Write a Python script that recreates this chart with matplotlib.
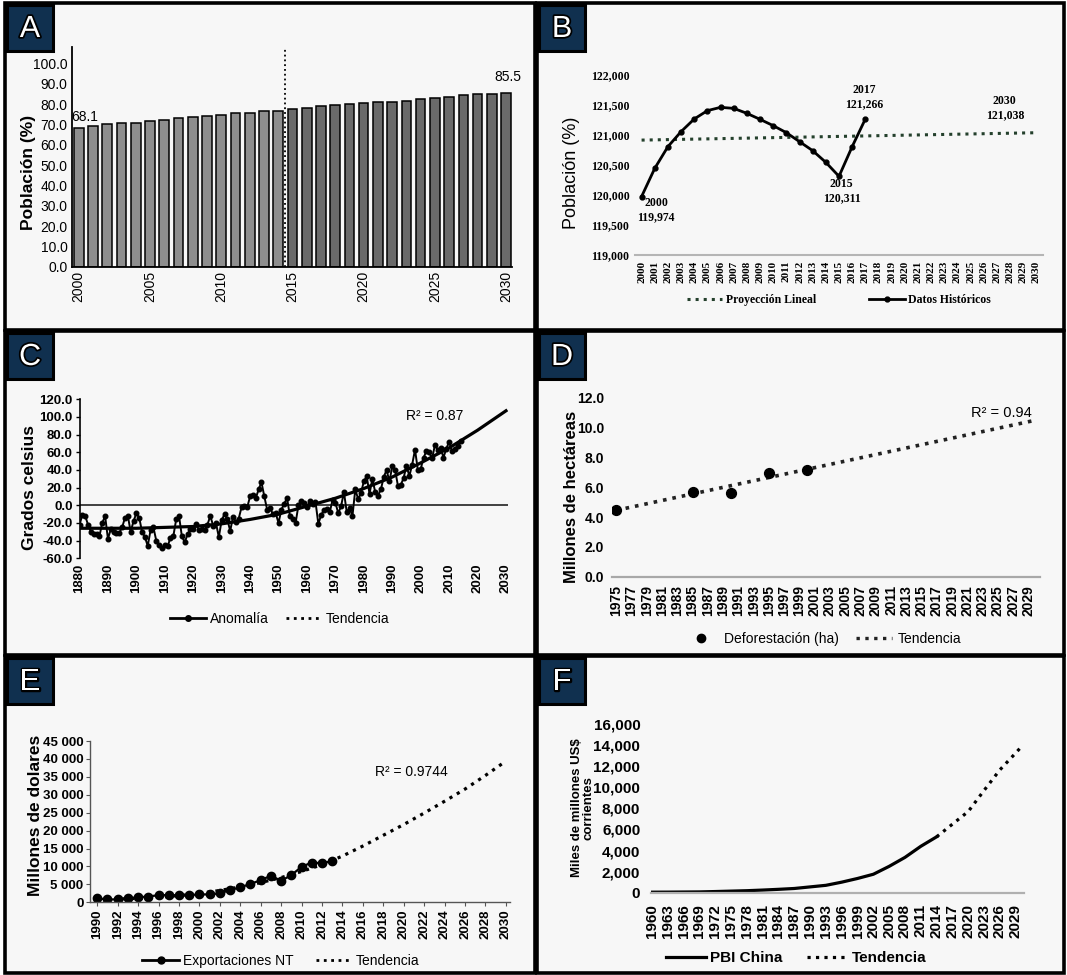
import matplotlib
matplotlib.use('Agg')
import matplotlib.pyplot as plt
from matplotlib.patches import Rectangle
from matplotlib.lines import Line2D
import matplotlib.patheffects as pe

W, H = 1067, 975
SANS = ['Liberation Sans', 'DejaVu Sans']
NARROW = ['Liberation Sans Narrow', 'Liberation Sans', 'DejaVu Sans']
SERIF = ['Liberation Serif', 'DejaVu Serif']

# ---- A: población urbana (%) ----
years_a = list(range(2000, 2031))
pob_a = [68.1, 69.0, 70.0, 70.5, 70.8, 71.8, 72.2, 73.0, 73.8, 74.3, 74.6,
         75.5, 75.5, 76.5, 76.5, 77.5, 78.3, 78.8, 79.5, 80.0, 80.4,
         81.2, 81.2, 81.7, 82.4, 82.9, 83.5, 84.3, 84.7, 85.1, 85.5]

# ---- B: población, datos históricos y proyección ----
years_b = list(range(2000, 2018))
pob_b = [119974, 120444, 120806, 121056, 121267, 121406, 121461, 121444,
         121361, 121261, 121156, 121039, 120889, 120739, 120544, 120311,
         120806, 121266]
proy_years = [2000, 2030]
proy_vals = [120915, 121038]
b_yticks = [119000, 119500, 120000, 120500, 121000, 121500, 122000]

# ---- C: anomalía de temperatura ----
years_c = list(range(1880, 2015))
anom_c = [-22, -11, -12, -22, -30, -32, -33, -35, -20, -12,
          -38, -27, -30, -31, -31, -25, -14, -12, -30, -18,
          -9, -14, -30, -36, -46, -28, -25, -40, -45, -48,
          -45, -46, -37, -35, -16, -12, -35, -42, -33, -27,
          -27, -21, -28, -27, -28, -22, -12, -23, -20, -36,
          -17, -10, -16, -29, -13, -19, -15, -2, -1, -2,
          10, 12, 8, 18, 26, 10, -5, -3, -10, -9,
          -20, -5, 2, 8, -12, -15, -20, 0, 5, 3,
          -2, 5, 2, 4, -21, -11, -5, -4, -8, 6,
          3, -9, -1, 15, -8, -3, -12, 18, 7, 14,
          27, 33, 13, 30, 15, 11, 18, 32, 40, 27,
          44, 40, 22, 23, 31, 45, 33, 46, 63, 40,
          41, 54, 61, 60, 53, 68, 63, 65, 54, 64,
          72, 61, 64, 67, 73]
trend_c_years = [1880, 1890, 1900, 1910, 1920, 1930, 1940, 1950, 1960,
                 1970, 1980, 1990, 2000, 2010, 2020, 2030]
trend_c = [-26, -26, -26, -25, -24, -21, -16, -10, -1, 8, 19, 32, 48, 65, 85, 107]

# ---- D: deforestación ----
years_d = [1975, 1985, 1990, 1995, 2000]
defor_d = [4.47, 5.65, 5.63, 6.97, 7.15]
trend_d_years = [1975, 2030]
trend_d = [4.45, 10.5]

# ---- E: exportaciones NT ----
years_e = list(range(1990, 2014))
export_e = [1100, 800, 800, 1100, 1400, 1600, 2000, 2000, 1900, 2000, 2200, 2200,
            2500, 3400, 4200, 5100, 6200, 7400, 6000, 7600, 9900, 11100, 10900, 11500]
trend_e_years = list(range(1990, 2031, 2))
trend_e = [900, 900, 1100, 1400, 1900, 2500, 3300, 4300, 5500, 6900, 8600,
           10500, 12900, 15700, 18700, 21700, 24900, 28200, 31600, 35400, 39400]

# ---- F: PBI China ----
years_f = list(range(1960, 2015, 3))
pbi_f = [50, 55, 65, 75, 110, 150, 190, 250, 320, 400, 550, 700, 1000,
         1350, 1750, 2500, 3350, 4400, 5300]
trend_f_years = [2014, 2017, 2020, 2023, 2026, 2029, 2030]
trend_f = [5300, 6500, 7700, 9700, 11650, 13250, 13800]

fig = plt.figure(figsize=(W / 100, H / 100), dpi=100, facecolor='white')


def fxy(x, y):
    return x / W, 1 - y / H


def px_axes(x0, y0, x1, y1):
    ax = fig.add_axes([x0 / W, 1 - y1 / H, (x1 - x0) / W, (y1 - y0) / H])
    ax.set_facecolor('none')
    for s in ax.spines.values():
        s.set_visible(False)
    return ax


def tick_font(ax, axis, fam, size, weight='bold'):
    labels = ax.get_xticklabels() if axis == 'x' else ax.get_yticklabels()
    for t in labels:
        t.set_family(fam)
        t.set_fontsize(size)
        t.set_fontweight(weight)


# panel frames and letters
panels = {'A': (5, 3, 535, 330), 'B': (537, 3, 1064, 330),
          'C': (5, 331, 535, 655), 'D': (537, 331, 1064, 655),
          'E': (5, 656, 535, 973), 'F': (537, 656, 1064, 973)}
for key, (x0, y0, x1, y1) in panels.items():
    fig.patches.append(Rectangle(fxy(x0, y1), (x1 - x0) / W, (y1 - y0) / H,
                                 transform=fig.transFigure, facecolor='#f7f7f7',
                                 edgecolor='black', lw=2.6, zorder=-2))
    fig.patches.append(Rectangle(fxy(x0 + 2, y0 + 48), 46 / W, 46 / H,
                                 transform=fig.transFigure, facecolor='#10304f',
                                 edgecolor='black', lw=2.2, zorder=-1))
    fig.text((x0 + 25) / W, 1 - (y0 + 26) / H, key, color='white', fontsize=22,
             ha='center', va='center', family=SANS,
             path_effects=[pe.withStroke(linewidth=2.5, foreground='black')])

# ---------------- A ----------------
axA = px_axes(71.6, 47, 511.8, 267)
cols = ['#8e8e8e' if y < 2015 else '#6a6a6a' for y in years_a]
axA.bar(years_a, pob_a, width=0.68, color=cols, edgecolor='black', linewidth=1.1)
axA.set_xlim(1999.5, 2030.4)
axA.set_ylim(0, 108)
axA.spines['left'].set_visible(True)
axA.spines['bottom'].set_visible(True)
axA.spines['left'].set_linewidth(1.3)
axA.spines['bottom'].set_linewidth(1.3)
axA.axvline(2014.5, color='black', ls=':', lw=1.3)
axA.set_yticks(range(0, 101, 10))
axA.set_yticklabels([f'{v:.1f}' for v in range(0, 101, 10)])
axA.set_xticks(range(2000, 2031, 5))
axA.set_xticklabels([str(y) for y in range(2000, 2031, 5)], rotation=90)
axA.tick_params(length=0, pad=3)
tick_font(axA, 'y', SANS, 10, 'normal')
tick_font(axA, 'x', SANS, 10, 'normal')
axA.text(2000.45, 73.8, f'{pob_a[0]:.1f}', ha='center', va='center', fontsize=10, family=SANS)
axA.text(2030.1, 93.4, f'{pob_a[-1]:.1f}', ha='center', va='center', fontsize=10, family=SANS)
fig.text(29 / W, 1 - 172 / H, 'Población (%)', rotation=90, ha='center', va='center',
         fontsize=12.5, fontweight='bold', family=SANS)

# ---------------- B ----------------
axB = px_axes(635, 75, 1043, 255)
axB.plot(proy_years, proy_vals, color='#24402c', ls=':', lw=2.2)
axB.plot(years_b, pob_b, color='black', lw=2, marker='o', ms=3.5)
axB.set_xlim(1999.5, 2030.5)
axB.set_ylim(119000, 122000)
axB.spines['bottom'].set_visible(True)
axB.spines['bottom'].set_color('#b5b5b5')
axB.spines['bottom'].set_linewidth(1.5)
axB.set_yticks(b_yticks)
axB.set_yticklabels([f'{v:,}' for v in b_yticks])
axB.set_xticks(range(2000, 2031))
axB.set_xticklabels([str(y) for y in range(2000, 2031)], rotation=90)
axB.tick_params(length=0, pad=4)
tick_font(axB, 'y', SERIF, 8.5)
tick_font(axB, 'x', SERIF, 8)
for yr, val, tx, ty in [(2000, pob_b[0], 2001.1, 119750), (2015, pob_b[15], 2015.2, 120067),
                        (2017, pob_b[17], 2016.9, 121625), (2030, proy_vals[-1], 2027.6, 121445)]:
    axB.text(tx, ty, f'{yr}\n{val:,}', ha='center', va='center', fontsize=8.5,
             fontweight='bold', family=SERIF, linespacing=1.25)
fig.text(571 / W, 1 - 173 / H, 'Población (%)', rotation=90, ha='center', va='center',
         fontsize=13, family=SANS)
hB = [Line2D([], [], color='#24402c', ls=':', lw=2.2),
      Line2D([], [], color='black', lw=2, marker='o', ms=3.5)]
axB.legend(hB, ['Proyección Lineal', 'Datos Históricos'], loc='center', ncol=2,
           bbox_to_anchor=fxy(839, 300), bbox_transform=fig.transFigure, frameon=False,
           prop={'family': SERIF, 'weight': 'bold', 'size': 8.5},
           handlelength=3.0, columnspacing=4.5, handletextpad=0.3)

# ---------------- C ----------------
axC = px_axes(79.5, 399.3, 507.7, 558.3)
axC.axhline(0, color='#222222', lw=1.2)
axC.plot(trend_c_years, trend_c, color='black', lw=2.3)
axC.plot(years_c, anom_c, color='black', lw=1.4, marker='o', ms=3.3)
axC.set_xlim(1880, 2030.6)
axC.set_ylim(-60, 120)
axC.spines['left'].set_visible(True)
axC.spines['left'].set_linewidth(1.2)
axC.set_yticks(range(-60, 121, 20))
axC.set_yticklabels([f'{v:.1f}' for v in range(-60, 121, 20)])
axC.set_xticks(range(1880, 2031, 10))
axC.set_xticklabels([str(y) for y in range(1880, 2031, 10)], rotation=90)
axC.tick_params(axis='y', length=3, width=1, pad=2)
axC.tick_params(axis='x', length=0, pad=4)
tick_font(axC, 'y', NARROW, 9.5)
tick_font(axC, 'x', NARROW, 9.5)
axC.text(2005, 101, 'R² = 0.87', ha='center', va='center', fontsize=10, family=NARROW)
fig.text(30 / W, 1 - 488 / H, 'Grados celsius', rotation=90, ha='center', va='center',
         fontsize=12.5, fontweight='bold', family=SANS)
hC = [Line2D([], [], color='black', lw=2, marker='o', ms=4),
      Line2D([], [], color='black', ls=':', lw=2)]
axC.legend(hC, ['Anomalía', 'Tendencia'], loc='center', ncol=2,
           bbox_to_anchor=fxy(280, 619), bbox_transform=fig.transFigure, frameon=False,
           prop={'family': NARROW, 'size': 10}, handlelength=2.6, columnspacing=1.2,
           handletextpad=0.3)

# ---------------- D ----------------
axD = px_axes(612.4, 397.7, 1039.9, 576.7)
axD.plot(trend_d_years, trend_d, color='#222222', ls=':', lw=2.6)
axD.scatter(years_d, defor_d, s=50, color='black', zorder=3)
axD.set_xlim(1974.5, 2030.5)
axD.set_ylim(0, 12)
axD.spines['bottom'].set_visible(True)
axD.spines['bottom'].set_color('#a8a8a8')
axD.spines['bottom'].set_linewidth(1.6)
axD.set_yticks(range(0, 13, 2))
axD.set_yticklabels([f'{v:.1f}' for v in range(0, 13, 2)])
axD.set_xticks(range(1975, 2030, 2))
axD.set_xticklabels([str(y) for y in range(1975, 2030, 2)], rotation=90)
axD.tick_params(length=0, pad=6)
tick_font(axD, 'y', NARROW, 10)
tick_font(axD, 'x', NARROW, 10)
axD.text(2025.4, 11.0, 'R² = 0.94', ha='center', va='center', fontsize=10.5, family=NARROW)
fig.text(572 / W, 1 - 497 / H, 'Millones de hectáreas', rotation=90, ha='center',
         va='center', fontsize=12, fontweight='bold', family=SANS)
hD = [Line2D([], [], color='black', ls='none', marker='o', ms=6),
      Line2D([], [], color='#222222', ls=':', lw=2.4)]
axD.legend(hD, ['Deforestación (ha)', 'Tendencia'], loc='center', ncol=2,
           bbox_to_anchor=fxy(822, 639), bbox_transform=fig.transFigure, frameon=False,
           prop={'family': NARROW, 'size': 10}, handlelength=2.6, columnspacing=1.2,
           handletextpad=0.4)

# ---------------- E ----------------
axE = px_axes(90.4, 741, 510, 902.3)
axE.plot(trend_e_years, trend_e, color='black', ls=':', lw=2.3)
axE.plot(years_e, export_e, color='black', lw=1.6, marker='o', ms=6)
axE.set_xlim(1989.33, 2030.4)
axE.set_ylim(0, 45000)
for s in ('left', 'bottom'):
    axE.spines[s].set_visible(True)
    axE.spines[s].set_color('#555555')
    axE.spines[s].set_linewidth(1.0)
e_ticks = list(range(0, 45001, 5000))
axE.set_yticks(e_ticks)
axE.set_yticklabels([f'{v:,}'.replace(',', ' ') for v in e_ticks])
axE.set_xticks(range(1990, 2031, 2))
axE.set_xticklabels([str(y) for y in range(1990, 2031, 2)], rotation=90)
axE.tick_params(axis='both', length=3, width=0.8, color='#555555', pad=2)
tick_font(axE, 'y', NARROW, 9.5)
tick_font(axE, 'x', NARROW, 9.5)
axE.text(2020.7, 36270, 'R² = 0.9744', ha='center', va='center', fontsize=10, family=NARROW)
fig.text(36 / W, 1 - 815 / H, 'Millones de dolares', rotation=90, ha='center',
         va='center', fontsize=12.5, fontweight='bold', family=SANS)
hE = [Line2D([], [], color='black', lw=2, marker='o', ms=5),
      Line2D([], [], color='black', ls=':', lw=2)]
axE.legend(hE, ['Exportaciones NT', 'Tendencia'], loc='center', ncol=2,
           bbox_to_anchor=fxy(281, 961), bbox_transform=fig.transFigure, frameon=False,
           prop={'family': NARROW, 'size': 10}, handlelength=2.6, columnspacing=1.6,
           handletextpad=0.3)

# ---------------- F ----------------
axF = px_axes(651.4, 724, 1023.6, 892.7)
axF.plot(years_f, pbi_f, color='black', lw=2.3)
axF.plot(trend_f_years, trend_f, color='black', ls=':', lw=2.3)
axF.set_xlim(1959.9, 2030.5)
axF.set_ylim(0, 16000)
axF.spines['bottom'].set_visible(True)
axF.spines['bottom'].set_color('#b0b0b0')
axF.spines['bottom'].set_linewidth(1.6)
f_ticks = list(range(0, 16001, 2000))
axF.set_yticks(f_ticks)
axF.set_yticklabels([f'{v:,}' for v in f_ticks])
axF.set_xticks(range(1960, 2030, 3))
axF.set_xticklabels([str(y) for y in range(1960, 2030, 3)], rotation=90)
axF.tick_params(length=0, pad=8)
tick_font(axF, 'y', NARROW, 11)
tick_font(axF, 'x', NARROW, 11)
fig.text(583 / W, 1 - 808 / H, 'Miles de millones US$\ncorrientes', rotation=90,
         ha='center', va='center', fontsize=9.5, fontweight='bold', family=SANS,
         linespacing=0.95)
hF = [Line2D([], [], color='black', lw=2.3),
      Line2D([], [], color='black', ls=':', lw=2.3)]
axF.legend(hF, ['PBI China', 'Tendencia'], loc='center', ncol=2,
           bbox_to_anchor=fxy(796, 958), bbox_transform=fig.transFigure, frameon=False,
           prop={'family': NARROW, 'size': 11, 'weight': 'bold'}, handlelength=2.6,
           columnspacing=1.6, handletextpad=0.3)

fig.savefig('out.png', dpi=100, facecolor='white')
